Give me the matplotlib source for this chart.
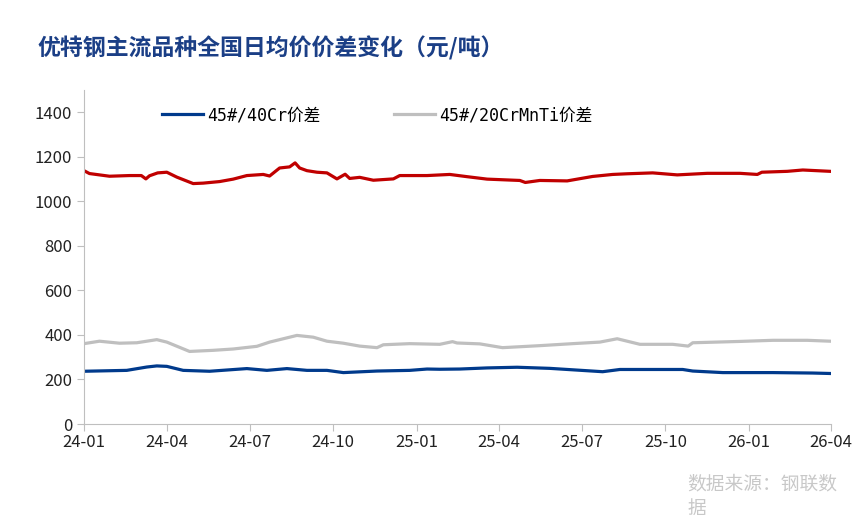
import pandas as pd
import matplotlib
matplotlib.use("Agg")
import matplotlib.pyplot as plt
import matplotlib.dates as mdates

plt.rcParams['font.family'] = ['Noto Sans CJK SC', 'DejaVu Sans']

# red series (no legend entry in the original)
red_dates = ["2024-01-01", "2024-01-07", "2024-01-29", "2024-02-20", "2024-03-04", "2024-03-09",
             "2024-03-13", "2024-03-22", "2024-04-01", "2024-04-12", "2024-04-30", "2024-05-11",
             "2024-05-29", "2024-06-13", "2024-06-28", "2024-07-16", "2024-07-23", "2024-08-03",
             "2024-08-14", "2024-08-20", "2024-08-25", "2024-09-02", "2024-09-13", "2024-09-24",
             "2024-10-05", "2024-10-14", "2024-10-19", "2024-10-30", "2024-11-14", "2024-12-06",
             "2024-12-13", "2025-01-12", "2025-02-06", "2025-02-25", "2025-03-19", "2025-04-24",
             "2025-04-30", "2025-05-16", "2025-06-15", "2025-07-13", "2025-08-04", "2025-08-20",
             "2025-09-17", "2025-10-14", "2025-11-16", "2025-12-22", "2026-01-10", "2026-01-15",
             "2026-02-12", "2026-03-01", "2026-03-31"]
red_vals = [1138, 1125, 1113, 1116, 1116, 1101, 1115, 1128, 1131, 1109, 1080, 1082,
            1089, 1100, 1116, 1121, 1114, 1150, 1155, 1173, 1150, 1138, 1131, 1128,
            1101, 1122, 1103, 1108, 1095, 1101, 1116, 1116, 1121, 1111, 1100, 1094,
            1085, 1094, 1092, 1112, 1121, 1124, 1128, 1119, 1126, 1126, 1121, 1131,
            1135, 1141, 1135]

# 45#/40Cr
blue_dates = ["2024-01-01", "2024-02-17", "2024-03-10", "2024-03-21", "2024-04-01", "2024-04-19",
              "2024-05-18", "2024-06-28", "2024-07-20", "2024-08-11", "2024-09-02", "2024-09-24",
              "2024-10-12", "2024-11-18", "2024-12-24", "2025-01-12", "2025-01-26", "2025-02-17",
              "2025-03-19", "2025-04-21", "2025-05-27", "2025-07-24", "2025-08-12", "2025-10-20",
              "2025-10-31", "2025-12-03", "2026-01-27", "2026-03-12", "2026-03-31"]
blue_vals = [237, 241, 256, 261, 259, 241, 237, 249, 241, 249, 241, 241,
             231, 238, 241, 247, 246, 247, 252, 255, 250, 235, 245, 245,
             238, 231, 231, 229, 227]

# 45#/20CrMnTi
grey_dates = ["2024-01-01", "2024-01-18", "2024-02-09", "2024-02-28", "2024-03-21", "2024-04-01",
              "2024-04-26", "2024-05-22", "2024-06-13", "2024-07-09", "2024-07-23", "2024-08-07",
              "2024-08-22", "2024-09-09", "2024-09-24", "2024-10-12", "2024-10-30", "2024-11-18",
              "2024-11-25", "2024-12-24", "2025-01-26", "2025-02-09", "2025-02-14", "2025-03-11",
              "2025-04-05", "2025-05-16", "2025-06-21", "2025-07-21", "2025-08-09", "2025-09-03",
              "2025-10-09", "2025-10-26", "2025-10-31", "2025-12-22", "2026-01-27", "2026-03-06",
              "2026-03-31"]
grey_vals = [361, 372, 363, 365, 379, 368, 326, 331, 337, 349, 368, 383,
             398, 390, 372, 363, 350, 343, 356, 361, 358, 370, 364, 360,
             343, 352, 361, 368, 383, 358, 358, 350, 365, 371, 376, 376,
             372]

fig = plt.figure(figsize=(8.66, 5.27), dpi=100)
ax = fig.add_axes([0.097, 0.1954, 0.8626, 0.6337])

ax.plot(pd.to_datetime(red_dates), red_vals, color="#C00000", lw=2.3, label="_nolegend_")
ax.plot(pd.to_datetime(blue_dates), blue_vals, color="#003A8C", lw=2.3, label="45#/40Cr价差")
ax.plot(pd.to_datetime(grey_dates), grey_vals, color="#BFBFBF", lw=2.3, label="45#/20CrMnTi价差")

ax.set_xlim(pd.Timestamp("2024-01-01"), pd.Timestamp("2026-04-01"))
ax.set_ylim(0, 1500)
ax.set_yticks(range(0, 1401, 200))
ax.xaxis.set_major_locator(mdates.MonthLocator(bymonth=[1, 4, 7, 10]))
ax.xaxis.set_major_formatter(mdates.DateFormatter("%y-%m"))

for s in ["top", "right"]:
    ax.spines[s].set_visible(False)
for s in ["left", "bottom"]:
    ax.spines[s].set_color("#BFBFBF")
ax.tick_params(colors="#BFBFBF", labelcolor="#222222", labelsize=12, length=5)
ax.tick_params(axis="x", pad=2)

leg = ax.legend(loc="center left", bbox_to_anchor=(0.105, 0.925), ncol=2, frameon=False,
                handlelength=2.45, handletextpad=0.25, columnspacing=4.4,
                borderpad=0, borderaxespad=0,
                prop={"family": ["DejaVu Sans Mono", "Noto Sans CJK SC"], "size": 12})

fig.text(0.043, 0.909, "优特钢主流品种全国日均价价差变化（元/吨）", fontsize=16.5,
         fontweight="bold", color="#1B3F86", va="center")
fig.text(0.794, 0.058, "数据来源：钢联数\n据", fontsize=13.5, color="#C8C8C8",
         va="center", linespacing=1.25)

fig.savefig("out.png", dpi=100)
